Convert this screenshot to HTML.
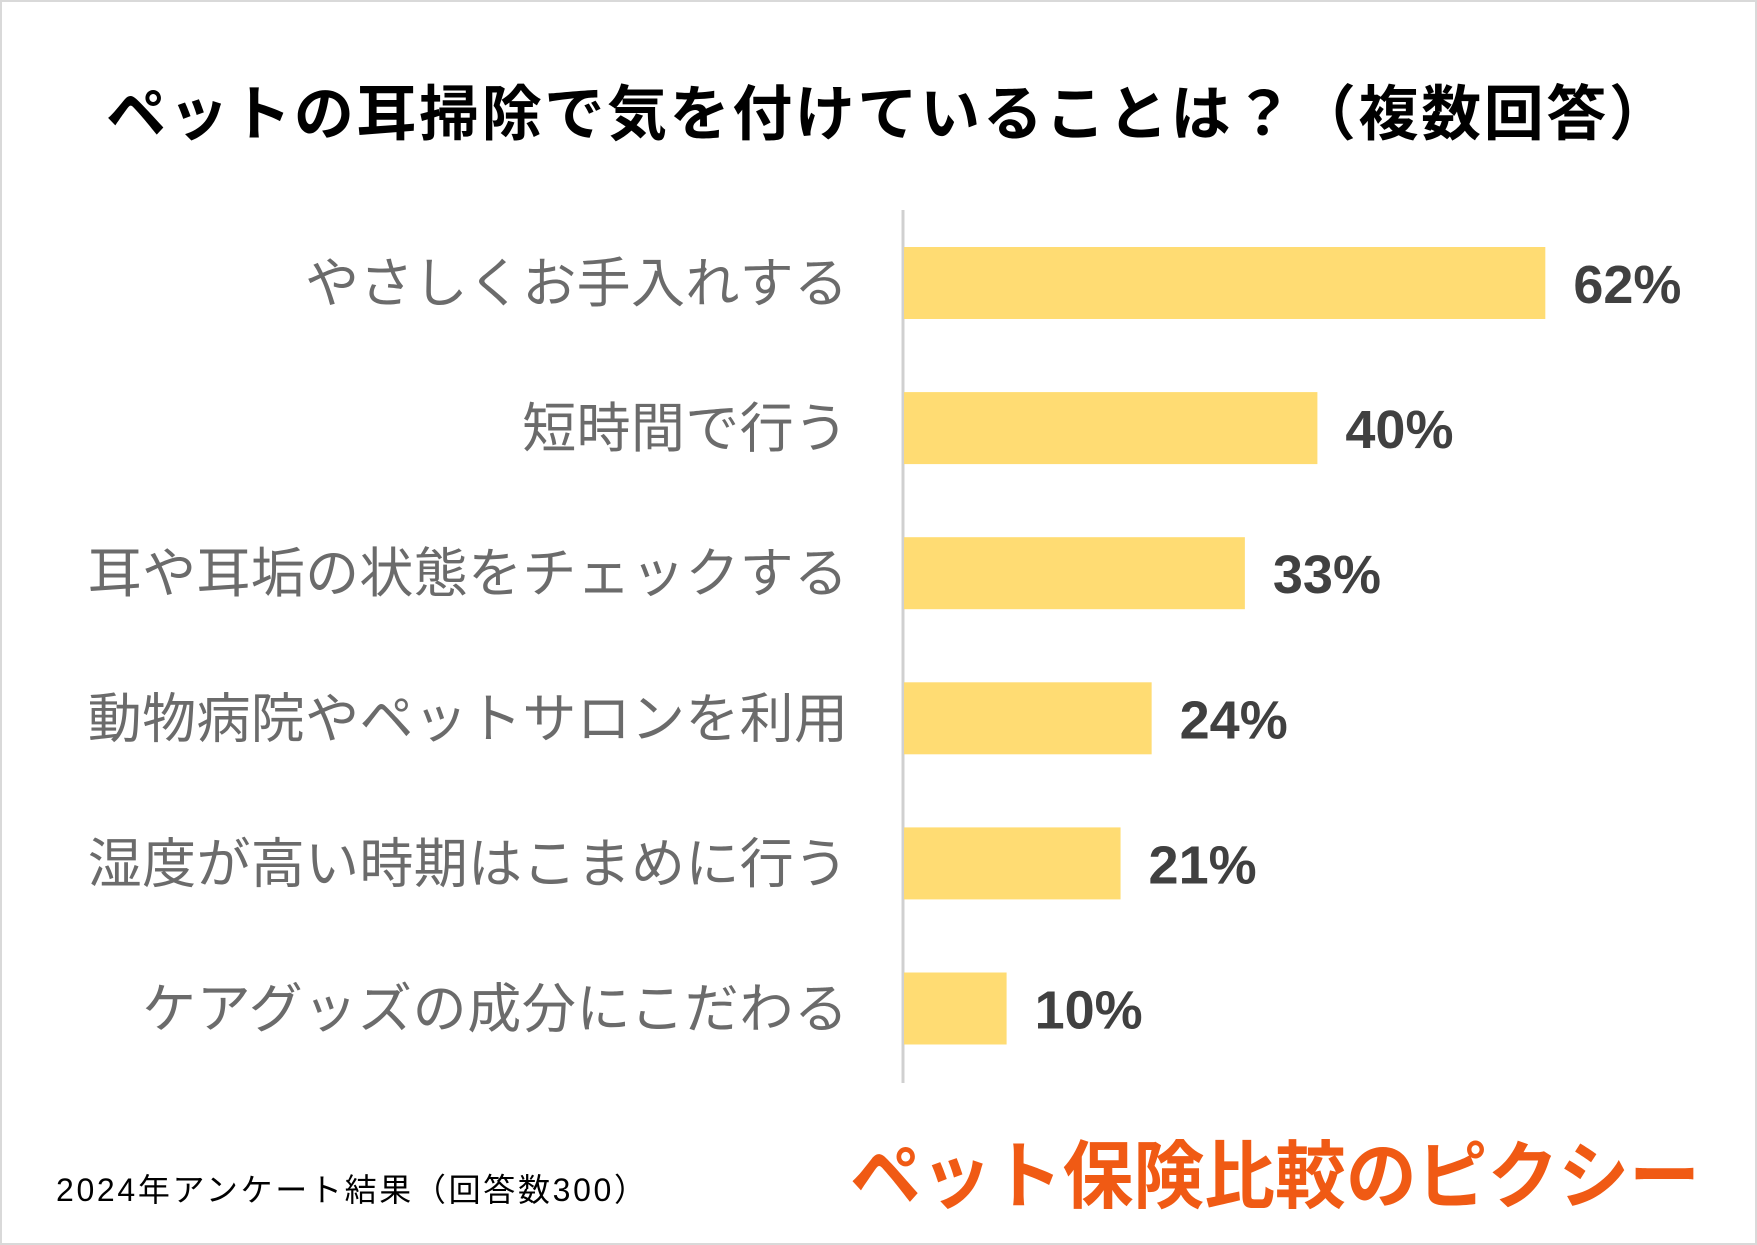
<!DOCTYPE html>
<html><head><meta charset="utf-8"><style>
html,body{margin:0;padding:0;background:#fff}
#wrap{position:relative;width:1757px;height:1245px;overflow:hidden;background:#fff;box-sizing:border-box;border:2px solid #d9d9d9}
svg text{font-family:"Liberation Sans","Noto Sans CJK JP",sans-serif}
</style></head><body>
<div id="wrap">
<svg id="chart" width="1757" height="1245">
<text x="104" y="133" font-size="60" font-weight="bold" fill="#000" textLength="1563" lengthAdjust="spacing">ペットの耳掃除で気を付けていることは？（複数回答）</text>
<line x1="901" y1="208" x2="901" y2="1081" stroke="#d0d0d0" stroke-width="3"/>
<g id="bars"></g>
<text x="54" y="1199" font-size="32" fill="#000" textLength="590" lengthAdjust="spacing">2024年アンケート結果（回答数300）</text>
<text x="848" y="1200" font-size="74" font-weight="bold" fill="#f05a14" textLength="850" lengthAdjust="spacingAndGlyphs">ペット保険比較のピクシー</text>
</svg>
</div>
<script>
const categories=["やさしくお手入れする","短時間で行う","耳や耳垢の状態をチェックする","動物病院やペットサロンを利用","湿度が高い時期はこまめに行う","ケアグッズの成分にこだわる"];
const values=[62,40,33,24,21,10];
const valueLabels=["62%","40%","33%","24%","21%","10%"];
const x0=901, perUnit=10.36, rowTop=245, rowStep=145.1, barH=72;
const xScale=v=>x0+v*perUnit;
const yScale=i=>rowTop+i*rowStep;
const g=document.getElementById('bars');
const NS='http://www.w3.org/2000/svg';
categories.forEach((c,i)=>{
  const y=yScale(i);
  const r=document.createElementNS(NS,'rect');
  r.setAttribute('x',x0+1);r.setAttribute('y',y);
  r.setAttribute('width',xScale(values[i])-x0-1);r.setAttribute('height',barH);
  r.setAttribute('fill','#ffdc73');
  
  
  g.appendChild(r);
  const l=document.createElementNS(NS,'text');
  const tl=c.length*54.3;
  l.setAttribute('x',846-tl);l.setAttribute('y',y+barH/2+19);
  l.setAttribute('font-size','54');l.setAttribute('fill','#6b6b6b');
  l.setAttribute('textLength',tl);l.setAttribute('lengthAdjust','spacing');
  l.textContent=c;
  
  
  g.appendChild(l);
  const v=document.createElementNS(NS,'text');
  v.setAttribute('x',xScale(values[i])+28);v.setAttribute('y',y+barH/2+20);
  v.setAttribute('font-size','54');v.setAttribute('font-weight','bold');v.setAttribute('fill','#404040');
  v.textContent=valueLabels[i];
  
  
  g.appendChild(v);
});
</script>
</body></html>
